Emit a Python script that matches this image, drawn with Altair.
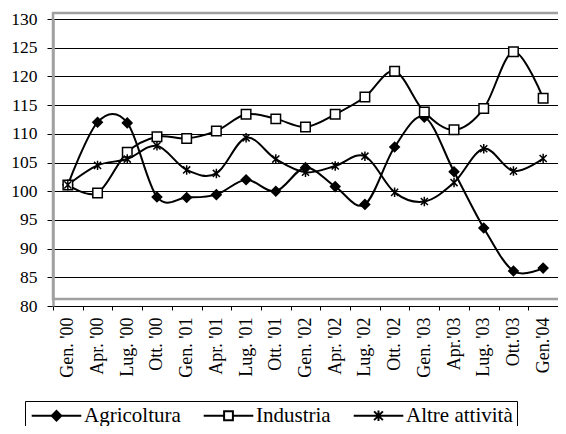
import altair as alt
import pandas as pd

categories = ["Gen. '00", "Apr. '00", "Lug. '00", "Ott. '00",
              "Gen. '01", "Apr. '01", "Lug. '01", "Ott. '01",
              "Gen. '02", "Apr. '02", "Lug. '02", "Ott. '02",
              "Gen. '03", "Apr.'03", "Lug. '03", "Ott.'03", "Gen.'04"]

agricoltura = [101.1, 112.0, 111.9, 99.0, 98.9, 99.4, 102.0, 100.0,
               104.1, 100.8, 97.7, 107.7, 112.9, 103.4, 93.6, 86.1, 86.6]
industria = [101.1, 99.7, 106.8, 109.5, 109.2, 110.5, 113.4, 112.6,
             111.2, 113.4, 116.4, 120.9, 113.8, 110.7, 114.4, 124.3, 116.2]
altre = [101.1, 104.5, 105.6, 107.9, 103.7, 103.1, 109.3, 105.6,
         103.3, 104.4, 106.1, 99.8, 98.2, 101.5, 107.4, 103.5, 105.7]

series = ["Agricoltura", "Industria", "Altre attività"]
values = [agricoltura, industria, altre]

rows = []
for s, vals in zip(series, values):
    for c, v in zip(categories, vals):
        rows.append({"cat": c, "series": s, "value": v})
df = pd.DataFrame(rows)

FONT = "'Liberation Serif', 'Times New Roman', Times, serif"
W, H = 505, 287

asterisk = "M-0.75,-0.75L0.75,0.75M-0.75,0.75L0.75,-0.75M0,-1L0,1"
# legend symbols (stroked only): unit = 8px (size 256); line spans about +-25px
leg_diamond = ("M-3.1,0L3.1,0"
               "M0,-0.6L0.6,0L0,0.6L-0.6,0Z"
               "M0,-0.35L0.35,0L0,0.35L-0.35,0Z"
               "M0,-0.1L0.1,0L0,0.1L-0.1,0Z")
leg_square = ("M-3.1,0L-0.55,0M0.55,0L3.1,0"
              "M-0.55,-0.55L0.55,-0.55L0.55,0.55L-0.55,0.55Z")
leg_star = "M-3.1,0L3.1,0M-0.55,-0.55L0.55,0.55M-0.55,0.55L0.55,-0.55M0,-0.65L0,0.65"

x_enc = alt.X("cat:N", sort=categories, bandPosition=0.5,
              scale=alt.Scale(type="band", paddingInner=0, paddingOuter=0),
              axis=alt.Axis(title=None, labelAngle=270, labelFont=FONT,
                            labelFontSize=18, labelColor="black",
                            tickColor="black", tickSize=4, tickBand="extent",
                            labelPadding=7, domainColor="black", domainWidth=1,
                            grid=False))
y_enc = alt.Y("value:Q",
              scale=alt.Scale(domain=[80, 130], nice=False, zero=False),
              axis=alt.Axis(title=None, values=list(range(80, 131, 5)),
                            labelFont=FONT, labelFontSize=17.5,
                            labelColor="black", tickColor="black", tickSize=6,
                            labelPadding=10, grid=True, gridColor="black",
                            gridWidth=1, domainColor="#a0a0a0", domainWidth=2.5))

base = alt.Chart(df)

lines = base.mark_line(interpolate="cardinal", color="black", strokeWidth=2).encode(
    x=x_enc, y=y_enc, detail="series:N")

points = base.mark_point(filled=True, size=90, stroke="black", strokeWidth=1.5, opacity=1).encode(
    x=x_enc, y=y_enc,
    shape=alt.Shape("series:N", scale=alt.Scale(domain=series, range=["diamond", "square", asterisk]),
                    legend=None),
    fill=alt.Fill("series:N", scale=alt.Scale(domain=series, range=["black", "white", "black"]),
                  legend=None))

legend_layer = base.transform_filter("false").mark_point(
    filled=False, color="black", strokeWidth=2, opacity=1).encode(
    x=x_enc, y=y_enc,
    shape=alt.Shape("series:N",
                    scale=alt.Scale(domain=series, range=[leg_diamond, leg_square, leg_star]),
                    legend=alt.Legend(title=None, orient="none", legendX=-28, legendY=382,
                                      direction="horizontal", strokeColor="black",
                                      fillColor="white", padding=4,
                                      labelFont=FONT, labelFontSize=21,
                                      labelColor="black", symbolSize=256,
                                      symbolOffset=17, columnPadding=18,
                                      labelOffset=17, symbolStrokeWidth=2,
                                      symbolStrokeColor="black", symbolOpacity=1)))

frame = alt.Chart(pd.DataFrame({"a": [0]})).mark_rect(
    fillOpacity=0, stroke="#a0a0a0", strokeWidth=2.5).encode(
    x=alt.value(0), x2=alt.value(W + 40), y=alt.value(-6), y2=alt.value(H - 7))

chart = alt.layer(frame, lines, points, legend_layer).resolve_scale(
    shape="independent", fill="independent").resolve_legend(
    shape="independent", fill="independent").properties(
    width=W, height=H,
    autosize=alt.AutoSizeParams(type="none"),
    padding={"left": 45, "top": 11, "right": 0, "bottom": 120},
    background="white").configure_view(stroke=None)

chart.save("out.html", embed_options={"renderer": "svg", "actions": False})
